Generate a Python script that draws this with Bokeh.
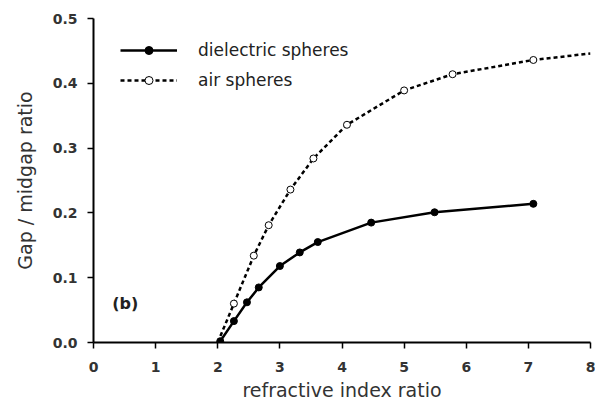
from bokeh.plotting import figure
from bokeh.models import Range1d, Legend, LegendItem, Label, FixedTicker, NumeralTickFormatter
from bokeh.embed import file_html
from bokeh.resources import INLINE

# Data
diel_x = [2.04, 2.26, 2.47, 2.66, 3.00, 3.32, 3.61, 4.47, 5.49, 7.08]
diel_y = [0.002, 0.033, 0.062, 0.085, 0.118, 0.139, 0.155, 0.185, 0.201, 0.214]
air_x = [2.26, 2.58, 2.82, 3.17, 3.54, 4.08, 5.00, 5.78, 7.08]
air_y = [0.060, 0.134, 0.181, 0.236, 0.284, 0.336, 0.389, 0.414, 0.436]
air_start = (2.00, 0.000)
air_end = (8.00, 0.446)
x_ticks = [0, 1, 2, 3, 4, 5, 6, 7, 8]
y_ticks = [0.0, 0.1, 0.2, 0.3, 0.4, 0.5]

air_curve_x = [air_start[0]] + air_x + [air_end[0]]
air_curve_y = [air_start[1]] + air_y + [air_end[1]]

FONT = "DejaVu Sans"

p = figure(width=595, height=403, output_backend="svg", toolbar_location=None,
           x_range=Range1d(0, 8), y_range=Range1d(0, 0.5),
           min_border_left=93, min_border_right=5, min_border_top=18, min_border_bottom=60)
p.outline_line_color = None
p.xgrid.visible = False
p.ygrid.visible = False
p.background_fill_color = "white"
p.border_fill_color = "white"

for ax in (p.xaxis[0], p.yaxis[0]):
    ax.axis_line_width = 2
    ax.axis_line_color = "black"
    ax.major_tick_line_width = 1.5
    ax.major_tick_line_color = "black"
    ax.major_tick_out = 6
    ax.major_tick_in = 0
    ax.minor_tick_line_color = None
    ax.major_label_text_font = FONT
    ax.major_label_text_font_style = "bold"
    ax.major_label_text_font_size = "14px"
    ax.major_label_text_color = "#333333"
    ax.axis_label_text_font = FONT
    ax.axis_label_text_font_style = "normal"
    ax.axis_label_text_font_size = "19px"
    ax.axis_label_text_color = "#333333"

p.xaxis[0].ticker = FixedTicker(ticks=x_ticks)
p.yaxis[0].ticker = FixedTicker(ticks=y_ticks)
p.yaxis[0].formatter = NumeralTickFormatter(format="0.0")
p.xaxis[0].major_label_standoff = 13
p.yaxis[0].major_label_standoff = 10
p.xaxis[0].axis_label = "refractive index ratio"
p.yaxis[0].axis_label = "Gap / midgap ratio"
p.xaxis[0].axis_label_standoff = 4
p.yaxis[0].axis_label_standoff = 14

l1 = p.line(diel_x, diel_y, line_color="black", line_width=2.5)
m1 = p.scatter(diel_x, diel_y, marker="circle", size=7, fill_color="black", line_color="black")
l2 = p.line(air_curve_x, air_curve_y, line_color="black", line_width=2.5, line_dash="4 3")
m2 = p.scatter(air_x, air_y, marker="circle", size=7, fill_color="white", line_color="black", line_width=1)

legend = Legend(items=[
    LegendItem(label="dielectric spheres", renderers=[l1, m1]),
    LegendItem(label="air spheres", renderers=[l2, m2]),
], location=(27, 252))
legend.glyph_width = 57
legend.glyph_height = 20
legend.label_standoff = 21
legend.spacing = 10
legend.padding = 0
legend.margin = 0
legend.border_line_alpha = 0
legend.background_fill_alpha = 0
legend.label_text_font = FONT
legend.label_text_font_size = "17px"
legend.label_text_color = "#222222"
p.add_layout(legend)

p.add_layout(Label(x=0.3, y=0.06, text="(b)", text_font=FONT, text_font_style="bold",
                   text_font_size="16px", text_color="#222222", text_baseline="middle"))

open("out.html", "w").write(file_html(p, INLINE))
